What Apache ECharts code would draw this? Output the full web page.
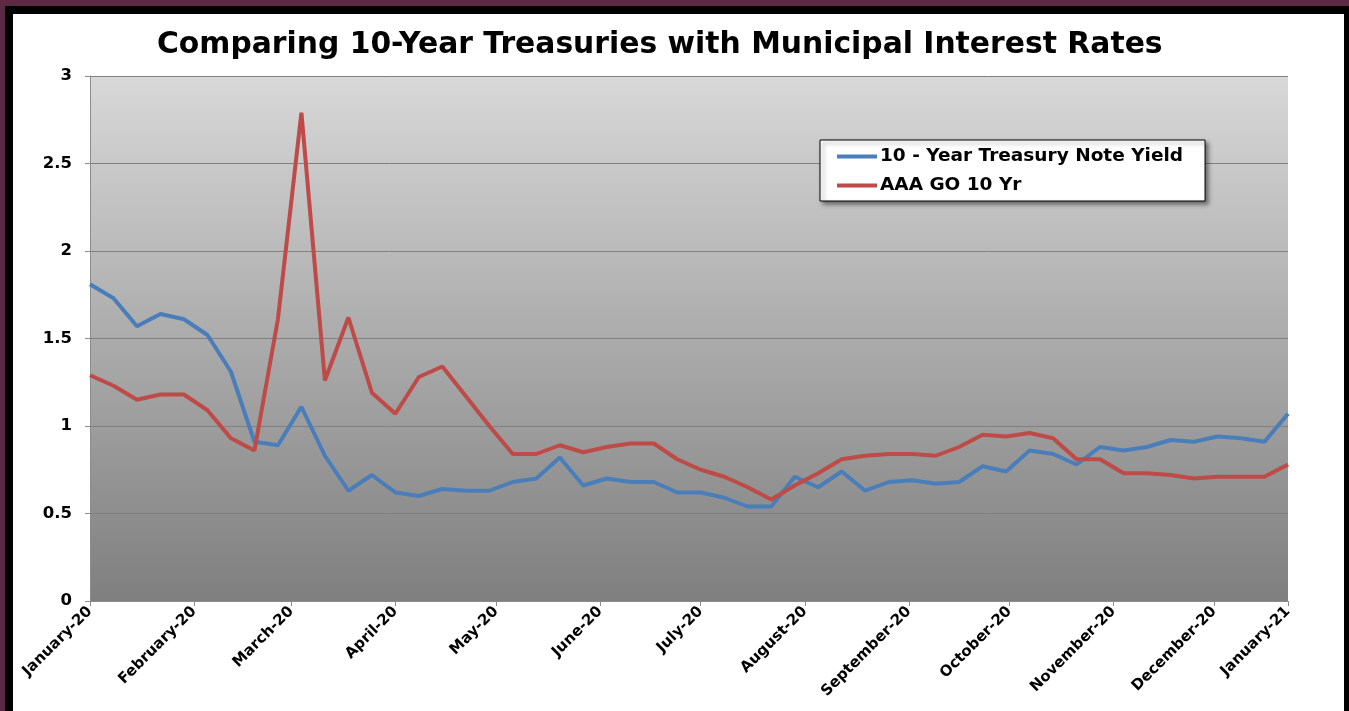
<!DOCTYPE html>
<html>
<head>
<meta charset="utf-8">
<script src="https://cdn.jsdelivr.net/npm/echarts@6/dist/echarts.min.js"></script>
<style>
  html, body { margin: 0; padding: 0; width: 1349px; height: 711px; overflow: hidden; background: #5c2a44; }
  #frame { position: absolute; left: 5px; top: 6px; width: 1344px; height: 705px; background: #000; }
  #inner { position: absolute; left: 13px; top: 14px; width: 1331px; height: 697px; background: #fff; }
  #chart { position: absolute; left: 0; top: 0; width: 1349px; height: 711px; }
</style>
</head>
<body>
<div id="frame"></div>
<div id="inner"></div>
<div id="chart"></div>
<script>
// Weekly observation dates
const dates = [
  '2020-01-01','2020-01-08','2020-01-15','2020-01-22','2020-01-29',
  '2020-02-05','2020-02-12','2020-02-19','2020-02-26',
  '2020-03-04','2020-03-11','2020-03-18','2020-03-25',
  '2020-04-01','2020-04-08','2020-04-15','2020-04-22','2020-04-29',
  '2020-05-06','2020-05-13','2020-05-20','2020-05-27',
  '2020-06-03','2020-06-10','2020-06-17','2020-06-24',
  '2020-07-01','2020-07-08','2020-07-15','2020-07-22','2020-07-29',
  '2020-08-05','2020-08-12','2020-08-19','2020-08-26',
  '2020-09-02','2020-09-09','2020-09-16','2020-09-23','2020-09-30',
  '2020-10-07','2020-10-14','2020-10-21','2020-10-28',
  '2020-11-04','2020-11-11','2020-11-18','2020-11-25',
  '2020-12-02','2020-12-09','2020-12-16','2020-12-23'
];
const treasury = [
  1.81,1.73,1.57,1.64,1.61,
  1.52,1.31,0.91,0.89,
  1.11,0.83,0.63,0.72,
  0.62,0.60,0.64,0.63,0.63,
  0.68,0.70,0.82,0.66,
  0.70,0.68,0.68,0.62,
  0.62,0.59,0.54,0.54,0.71,
  0.65,0.74,0.63,0.68,
  0.69,0.67,0.68,0.77,0.74,
  0.86,0.84,0.78,0.88,
  0.86,0.88,0.92,0.91,
  0.94,0.93,0.91,1.07
];
const aaaGo = [
  1.29,1.23,1.15,1.18,1.18,
  1.09,0.93,0.86,1.61,
  2.79,1.26,1.62,1.19,
  1.07,1.28,1.34,1.17,1.00,
  0.84,0.84,0.89,0.85,
  0.88,0.90,0.90,0.81,
  0.75,0.71,0.65,0.58,0.66,
  0.73,0.81,0.83,0.84,
  0.84,0.83,0.88,0.95,0.94,
  0.96,0.93,0.81,0.81,
  0.73,0.73,0.72,0.70,
  0.71,0.71,0.71,0.78
];
const tickDates = ['2020-01-01','2020-02-01','2020-03-01','2020-04-01','2020-05-01','2020-06-01',
  '2020-07-01','2020-08-01','2020-09-01','2020-10-01','2020-11-01','2020-12-01','2020-12-23'];
const tickLabels = ['January-20','February-20','March-20','April-20','May-20','June-20',
  'July-20','August-20','September-20','October-20','November-20','December-20','January-21'];
const yTicks = [0, 0.5, 1, 1.5, 2, 2.5, 3];
const seriesNames = ['10 - Year Treasury Note Yield', 'AAA GO 10 Yr'];

function dayNum(s) {
  const p = s.split('-').map(Number);
  return Math.round((Date.UTC(p[0], p[1] - 1, p[2]) - Date.UTC(2020, 0, 1)) / 86400000);
}
const tickDays = tickDates.map(dayNum);
const font = '"DejaVu Sans", sans-serif';

const chart = echarts.init(document.getElementById('chart'), null, { renderer: 'canvas' });
chart.setOption({
  backgroundColor: 'transparent',
  animation: false,
  title: {
    text: 'Comparing 10-Year Treasuries with Municipal Interest Rates',
    left: 152, top: 25,
    textStyle: { fontFamily: font, fontWeight: 'bold', fontSize: 29.8, color: '#000' }
  },
  legend: {
    orient: 'vertical',
    left: 820, top: 140,
    padding: [7, 22, 6, 17],
    itemGap: 10,
    itemWidth: 40, itemHeight: 4,
    icon: 'rect',
    backgroundColor: '#fff',
    borderColor: '#000', borderWidth: 1,
    shadowColor: 'rgba(0,0,0,0.45)', shadowBlur: 4, shadowOffsetX: 3, shadowOffsetY: 3,
    textStyle: { fontFamily: font, fontWeight: 'bold', fontSize: 18.5, color: '#000', padding: [0, 0, 0, -2] },
    data: seriesNames
  },
  grid: {
    left: 90, top: 76, width: 1198, height: 525,
    show: true,
    borderWidth: 0,
    backgroundColor: {
      type: 'linear', x: 0, y: 0, x2: 0, y2: 1,
      colorStops: [{ offset: 0, color: '#d8d8d8' }, { offset: 1, color: '#7f7f7f' }]
    }
  },
  xAxis: {
    type: 'value',
    min: 0, max: tickDays[tickDays.length - 1],
    splitLine: { show: false },
    axisLine: { show: true, lineStyle: { color: '#8c8c8c', width: 1 } },
    axisTick: { show: true, length: 5, lineStyle: { color: '#8c8c8c' }, customValues: tickDays },
    axisLabel: {
      customValues: tickDays,
      rotate: 45, margin: 8,
      fontFamily: font, fontWeight: 'bold', fontSize: 15, color: '#000',
      formatter: function (v) { const i = tickDays.indexOf(Math.round(v)); return i >= 0 ? tickLabels[i] : ''; }
    }
  },
  yAxis: {
    type: 'value',
    min: yTicks[0], max: yTicks[yTicks.length - 1], interval: 0.5,
    axisLine: { show: true, lineStyle: { color: '#8c8c8c', width: 1 } },
    axisTick: { show: true, length: 5, lineStyle: { color: '#8c8c8c' } },
    splitLine: { show: true, lineStyle: { color: '#808080', width: 1 } },
    axisLabel: {
      margin: 18,
      fontFamily: font, fontWeight: 'bold', fontSize: 16.5, color: '#000',
      formatter: function (v) { return String(v); }
    }
  },
  series: [
    {
      name: seriesNames[0], type: 'line', showSymbol: false, symbol: 'none',
      lineStyle: { color: '#4a7ebb', width: 4 }, itemStyle: { color: '#4a7ebb' },
      data: dates.map((d, i) => [dayNum(d), treasury[i]])
    },
    {
      name: seriesNames[1], type: 'line', showSymbol: false, symbol: 'none',
      lineStyle: { color: '#be4b48', width: 4 }, itemStyle: { color: '#be4b48' },
      data: dates.map((d, i) => [dayNum(d), aaaGo[i]])
    }
  ]
});
</script>
</body>
</html>
